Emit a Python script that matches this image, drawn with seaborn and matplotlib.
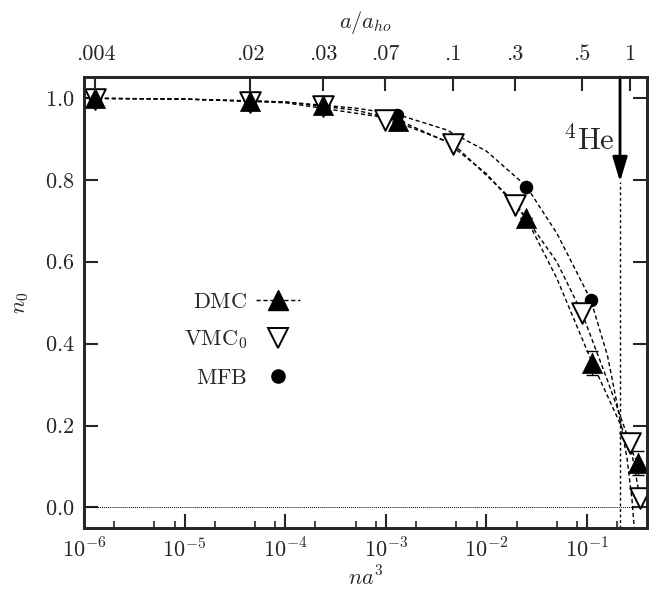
import numpy as np
import pandas as pd
import matplotlib
matplotlib.use("Agg")
import matplotlib.pyplot as plt
from matplotlib.lines import Line2D
from matplotlib.ticker import FixedLocator, NullFormatter
import seaborn as sns

# ---------------- data ----------------
vmc_x = [1.3e-6, 4.5e-5, 2.37e-4, 9.8e-4, 4.66e-3, 0.0192, 0.0891, 0.267, 0.336]
vmc_y = [0.997, 0.991, 0.980, 0.947, 0.888, 0.739, 0.475, 0.158, 0.024]
dmc_x = [1.3e-6, 4.5e-5, 2.37e-4, 1.32e-3, 0.0248, 0.112, 0.321]
dmc_y = [0.999, 0.993, 0.982, 0.944, 0.707, 0.353, 0.109]
dmc_err = [0.0, 0.0, 0.0, 0.0, 0.0, 0.03, 0.03]
mfb_x = [1.3e-6, 4.5e-5, 2.37e-4, 1.28e-3, 0.0248, 0.109]
mfb_y = [0.999, 0.994, 0.984, 0.958, 0.783, 0.507]

# dashed fit curves
dmc_fit_x = [1e-6, 1e-5, 1e-4, 5e-4, 1.32e-3, 4e-3, 1e-2, 0.0248, 0.05, 0.112, 0.2, 0.321]
dmc_fit_y = [0.999, 0.997, 0.990, 0.970, 0.946, 0.893, 0.815, 0.707, 0.56, 0.355, 0.22, 0.105]
vmc_fit_x = [1e-6, 1e-5, 1e-4, 9.8e-4, 4.66e-3, 0.0192, 0.05, 0.0891, 0.16, 0.267, 0.336]
vmc_fit_y = [0.999, 0.997, 0.988, 0.952, 0.888, 0.745, 0.60, 0.475, 0.31, 0.158, 0.024]
mfb_fit_x = [1e-6, 1e-5, 1e-4, 5e-4, 1.28e-3, 4e-3, 1e-2, 0.0248, 0.05, 0.109, 0.16, 0.2, 0.25, 0.28, 0.295]
mfb_fit_y = [0.999, 0.997, 0.990, 0.975, 0.960, 0.922, 0.870, 0.785, 0.67, 0.507, 0.37, 0.25, 0.12, 0.02, -0.05]

# top axis (a/a_ho) labels at the VMC densities
top_ticks = vmc_x[:8]
top_labels = ['.004', '.02', '.03', '.07', '.1', '.3', '.5', '1']

# bottom axis
bottom_ticks = [1e-6, 1e-5, 1e-4, 1e-3, 1e-2, 1e-1]
bottom_labels = ['$10^{-6}$', '$10^{-5}$', '$10^{-4}$', '$10^{-3}$', '$10^{-2}$', '$10^{-1}$']
y_ticks = [0.0, 0.2, 0.4, 0.6, 0.8, 1.0]
y_labels = ['$0.0$', '$0.2$', '$0.4$', '$0.6$', '$0.8$', '$1.0$']

he_x = 0.213       # 4He density
he_tip = 0.795     # arrow tip

xlim = (1e-6, 0.395)
ylim = (-0.05, 1.051)

# ---------------- style ----------------
sns.set_style("ticks")
plt.rcParams['font.family'] = ['cmr10', 'DejaVu Serif']
plt.rcParams['mathtext.fontset'] = 'cm'
plt.rcParams['axes.unicode_minus'] = False
FS = 16

fig = plt.figure(figsize=(6.58, 5.98), dpi=100)
ax = fig.add_axes([0.1277, 0.1171, 0.8556, 0.7542])
ax.set_xscale('log')

dash = (0, (3, 2))
for fx, fy in [(dmc_fit_x, dmc_fit_y), (vmc_fit_x, vmc_fit_y), (mfb_fit_x, mfb_fit_y)]:
    sns.lineplot(x=fx, y=fy, ax=ax, color='k', lw=1.0, linestyle=dash,
                 estimator=None, sort=False, legend=False)

# zero line and 4He line
ax.axhline(0.0, xmin=0, xmax=(np.log10(0.29) - np.log10(xlim[0])) / (np.log10(xlim[1]) - np.log10(xlim[0])),
           color='k', lw=0.7, ls=(0, (1, 1)))
ax.vlines(he_x, ylim[0], he_tip, color='k', lw=1.0, linestyles=(0, (2, 2)))
ax.annotate('', xy=(he_x, he_tip), xytext=(he_x, ylim[1]),
            arrowprops=dict(arrowstyle='-|>,head_length=1.5,head_width=0.45', lw=2.0,
                            color='k', mutation_scale=10, shrinkA=0, shrinkB=0))
ax.text(0.19, 0.873, r'$^4\mathrm{He}$', ha='right', va='baseline', fontsize=22)

# DMC error bars (dashed)
eb = ax.errorbar(dmc_x, dmc_y, yerr=dmc_err, fmt='none', ecolor='k', elinewidth=1.0,
                 capsize=4, capthick=1.0, zorder=2)
for lc in eb[2]:
    lc.set_linestyle((0, (2, 1.5)))

sns.scatterplot(x=mfb_x, y=mfb_y, ax=ax, marker='o', s=95, color='k',
                edgecolor='k', linewidth=0, zorder=3, legend=False)
sns.scatterplot(x=vmc_x, y=vmc_y, ax=ax, marker='v', s=220, color='white',
                edgecolor='k', linewidth=1.4, zorder=4, legend=False)
sns.scatterplot(x=dmc_x, y=dmc_y, ax=ax, marker='^', s=210, color='k',
                edgecolor='k', linewidth=0.5, zorder=5, legend=False)

ax.set_xlim(*xlim)
ax.set_ylim(*ylim)

# bottom ticks
ax.xaxis.set_major_locator(FixedLocator(bottom_ticks))
ax.set_xticklabels(bottom_labels)
minor = [m * 10.0 ** e for e in range(-6, 0) for m in (2, 5, 8)]
ax.xaxis.set_minor_locator(FixedLocator(minor))
ax.xaxis.set_minor_formatter(NullFormatter())
ax.set_yticks(y_ticks)
ax.set_yticklabels(y_labels)
ax.tick_params(axis='both', which='major', direction='in', length=10, width=1.5,
               labelsize=FS, pad=7)
ax.tick_params(axis='x', which='minor', direction='in', length=5, width=1.2, top=False)
ax.tick_params(axis='y', which='both', right=True)
ax.tick_params(axis='x', which='both', top=False)

for sp in ax.spines.values():
    sp.set_linewidth(2.0)
    sp.set_visible(True)

ax.set_xlabel('$na^3$', fontsize=FS, labelpad=3)
ax.set_ylabel('$n_0$', fontsize=FS, labelpad=10)

# top axis
ax2 = ax.twiny()
ax2.set_xscale('log')
ax2.set_xlim(*xlim)
ax2.xaxis.set_major_locator(FixedLocator(top_ticks))
ax2.set_xticklabels(top_labels, fontfamily='cmr10')
ax2.xaxis.set_minor_locator(FixedLocator([]))
ax2.tick_params(axis='x', which='major', direction='in', length=10, width=1.5,
                labelsize=FS, pad=9)
ax2.set_xlabel('$a/a_{ho}$', fontsize=FS, labelpad=12)
for sp in ax2.spines.values():
    sp.set_linewidth(2.0)

# legend
handles = [
    Line2D([], [], color='k', lw=1.0, ls=dash, marker='^', ms=14, mfc='k', mec='k'),
    Line2D([], [], ls='none', marker='v', ms=14, mfc='white', mec='k', mew=1.4),
    Line2D([], [], ls='none', marker='o', ms=9.5, mfc='k', mec='k'),
]
labels = [r'$\mathrm{DMC}$', r'$\mathrm{VMC}_0$', r'$\mathrm{MFB}$']
ax.legend(handles, labels, markerfirst=False, frameon=False, loc='center',
          bbox_to_anchor=(0.281, 0.417), fontsize=FS, labelspacing=0.75,
          handlelength=2.0, handletextpad=0.4)

fig.savefig('out.png', dpi=100)
